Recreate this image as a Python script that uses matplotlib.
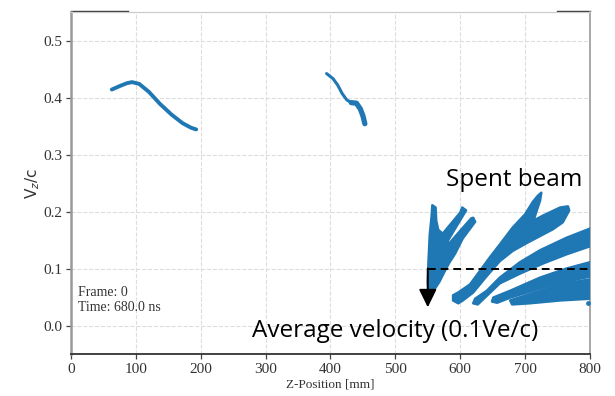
import matplotlib
matplotlib.use('Agg')
import matplotlib.pyplot as plt
import numpy as np

# bunch centre lines (z in mm, vz/c)
bunch1_z = [63, 75, 86, 94, 105, 120, 137, 155, 172, 185, 193]
bunch1_v = [0.414, 0.420, 0.425, 0.427, 0.424, 0.410, 0.389, 0.370, 0.355, 0.347, 0.344]
bunch2_z = [394, 404, 411, 418, 425, 432, 440, 446, 450, 453]
bunch2_v = [0.442, 0.433, 0.422, 0.407, 0.396, 0.391, 0.390, 0.380, 0.368, 0.354]

# spent beam outlines (z, vz/c)
spent_a = [(551, 0.056), (550, 0.075), (551, 0.110), (553, 0.158), (556, 0.193),
           (557, 0.211), (562, 0.207), (563, 0.184), (566, 0.168), (573, 0.161),
           (600, 0.198), (603, 0.207), (609, 0.202), (592, 0.170), (581, 0.149),
           (580, 0.140), (603, 0.170), (617, 0.188), (620, 0.189), (623, 0.182),
           (604, 0.153), (592, 0.126), (583, 0.110), (575, 0.093), (568, 0.077),
           (557, 0.058)]
spent_b = [(589, 0.053), (597, 0.058), (615, 0.072), (630, 0.095), (646, 0.120),
           (661, 0.142), (681, 0.172), (700, 0.195), (712, 0.217), (720, 0.228),
           (725, 0.233), (723, 0.219), (716, 0.195), (713, 0.184), (728, 0.193),
           (754, 0.207), (766, 0.209), (768, 0.202), (758, 0.181), (743, 0.169),
           (723, 0.157), (703, 0.145), (681, 0.131), (661, 0.113), (641, 0.087),
           (620, 0.058), (604, 0.044), (597, 0.039), (589, 0.044)]
spent_c = [(623, 0.047), (641, 0.061), (661, 0.084), (692, 0.111), (723, 0.132),
           (764, 0.154), (800, 0.170), (800, 0.139), (764, 0.125), (728, 0.109),
           (692, 0.091), (661, 0.074), (638, 0.049), (627, 0.037), (620, 0.039)]
spent_d = [(651, 0.049), (677, 0.061), (723, 0.084), (764, 0.100), (800, 0.111),
           (800, 0.086), (764, 0.077), (723, 0.065), (677, 0.049), (657, 0.040),
           (649, 0.042)]
spent_e = [(677, 0.044), (723, 0.061), (764, 0.074), (800, 0.081), (800, 0.047),
           (754, 0.044), (707, 0.039), (680, 0.037)]
stray_z = [797]
stray_v = [0.040]

avg_v = 0.1
avg_z = 550
arrow_tip_v = 0.032

blue = '#1f77b4'

fig = plt.figure(figsize=(6.15, 3.96), dpi=100)
ax = fig.add_axes([0.1154, 0.106, 0.8439, 0.8637])

ax.plot(bunch1_z, bunch1_v, color=blue, lw=2.8, solid_capstyle='round')
ax.plot(bunch2_z, bunch2_v, color=blue, lw=2.2, solid_capstyle='round')
ax.plot(bunch2_z[5:], bunch2_v[5:], color=blue, lw=3.8, solid_capstyle='round')

for poly in [spent_a, spent_b, spent_c, spent_d, spent_e]:
    pz, pv = zip(*poly)
    ax.fill(pz, pv, color=blue, lw=1.8, edgecolor=blue, joinstyle='round', zorder=3)
ax.scatter(stray_z, stray_v, s=6, color=blue, zorder=3)

# average velocity marker
ax.plot([avg_z, 800], [avg_v, avg_v], color='k', lw=1.4, ls=(0, (4, 2.5)), zorder=5, clip_on=False)
ax.annotate('', xy=(avg_z, arrow_tip_v), xytext=(avg_z, avg_v),
            arrowprops=dict(arrowstyle='-|>,head_length=0.55,head_width=0.27',
                            mutation_scale=20, color='k', lw=1.4, shrinkA=0, shrinkB=0),
            zorder=5)

ax.text(788, 0.256, 'Spent beam', family='Open Sans', fontsize=17.5, ha='right', va='center')
ax.text(499, -0.009, 'Average velocity (0.1Ve/c)', family='Open Sans', fontsize=17.5,
        ha='center', va='center')
ax.text(0.013, 0.2, 'Frame: 0\nTime: 680.0 ns', transform=ax.transAxes,
        family='Liberation Serif', fontsize=10, color='#333333', va='top', linespacing=1.25)

ax.set_xlim(0, 800)
ax.set_ylim(-0.05, 0.55)
ax.set_xticks(np.arange(0, 801, 100))
ax.set_yticks(np.arange(0, 0.51, 0.1))
ax.set_yticklabels(['0.0', '0.1', '0.2', '0.3', '0.4', '0.5'])
ax.grid(True, color='#dddddd', ls='--', lw=0.8)
ax.set_axisbelow(True)

for lab in ax.get_xticklabels() + ax.get_yticklabels():
    lab.set_family('Liberation Serif')
    lab.set_fontsize(11)
    lab.set_color('#333333')
ax.tick_params(direction='out', length=3.5, width=0.9, color='#444444', pad=3)

ax.set_xlabel('Z-Position [mm]', family='Liberation Serif', fontsize=9.5, color='#333333', labelpad=2)
ax.set_ylabel(r'V$_z$/c', fontsize=11, color='#333333', labelpad=1)

ax.spines['left'].set_color('#999999')
ax.spines['left'].set_linewidth(1.8)
ax.spines['bottom'].set_color('#333333')
ax.spines['bottom'].set_linewidth(1.3)
ax.spines['right'].set_color('#999999')
ax.spines['right'].set_linewidth(1.2)
ax.spines['top'].set_color('#cccccc')
ax.spines['top'].set_linewidth(0.9)

# dark pieces on the top edge
ax.plot([0, 0.11], [1.003, 1.003], transform=ax.transAxes, color='#333333', lw=1.0, clip_on=False)
ax.plot([0.936, 1.0], [1.003, 1.003], transform=ax.transAxes, color='#333333', lw=1.0, clip_on=False)

fig.savefig('out.png', dpi=100)
